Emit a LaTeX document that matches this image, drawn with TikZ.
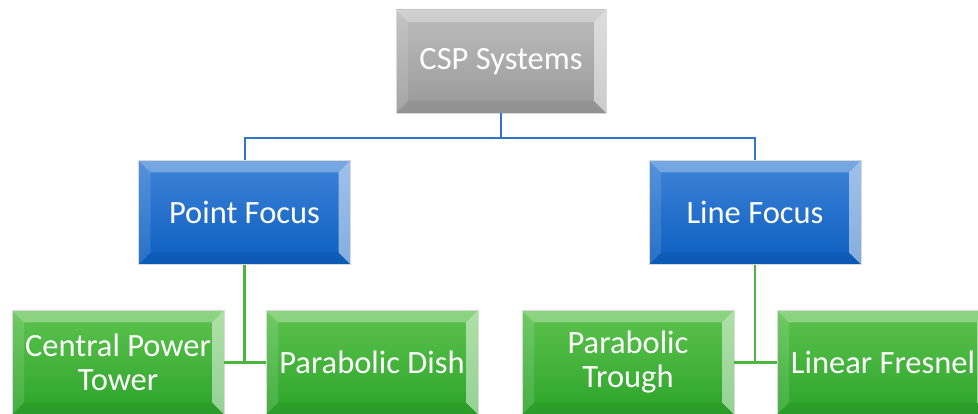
\documentclass[tikz,border=0pt]{standalone}
\usepackage{fontspec}
\setmainfont{Carlito}
\usetikzlibrary{calc}

\definecolor{grayTop}{HTML}{BDBDBD}
\definecolor{grayBot}{HTML}{999999}
\definecolor{blueTop}{HTML}{3F83D8}
\definecolor{blueBot}{HTML}{0B5EBF}
\definecolor{greenTop}{HTML}{5DC34E}
\definecolor{greenBot}{HTML}{2CA42A}
\definecolor{blueLine}{HTML}{2F76C9}
\definecolor{greenLine}{HTML}{4DB43F}

\tikzset{
  bevel/.style={
    minimum width=212pt, minimum height=104pt, inner sep=0pt,
    text=white, font=\fontsize{32.5}{34}\selectfont, align=center,
    draw=white!85!black, line width=0.8pt,
    path picture={
      \coordinate (nw) at (path picture bounding box.north west);
      \coordinate (ne) at (path picture bounding box.north east);
      \coordinate (sw) at (path picture bounding box.south west);
      \coordinate (se) at (path picture bounding box.south east);
      % top
      \fill[white,opacity=0.3] (nw) -- (ne) -- ($(ne)+(-12pt,-12pt)$) -- ($(nw)+(12pt,-12pt)$) -- cycle;
      % left
      \fill[white,opacity=0.12] (nw) -- ($(nw)+(12pt,-12pt)$) -- ($(sw)+(12pt,12pt)$) -- (sw) -- cycle;
      % right
      \fill[white,opacity=0.5] (ne) -- ($(ne)+(-12pt,-12pt)$) -- ($(se)+(-12pt,12pt)$) -- (se) -- cycle;
      % bottom
      \fill[black,opacity=0.05] (sw) -- ($(sw)+(12pt,12pt)$) -- ($(se)+(-12pt,12pt)$) -- (se) -- cycle;
    }},
  graybox/.style={bevel, top color=grayTop, bottom color=grayBot},
  bluebox/.style={bevel, top color=blueTop, bottom color=blueBot},
  greenbox/.style={bevel, top color=greenTop, bottom color=greenBot},
  bluecon/.style={draw=blueLine, line width=2pt},
  greencon/.style={draw=greenLine, line width=2.2pt}
}

\begin{document}
\begin{tikzpicture}[x=1pt,y=1pt]
  \useasboundingbox (0,0) rectangle (978,-414);
  \clip (0,0) rectangle (978,-414);

  \node[graybox, minimum width=210pt, minimum height=103pt] (csp) at (501,-61.5) {CSP Systems};

  \node[bluebox] (pf) at (244.5,-212.5) {Point Focus};
  \node[bluebox] (lf) at (755,-212.5) {Line Focus};

  \node[greenbox] (cpt) at (118,-362.5) {Central Power\\Tower};
  \node[greenbox] (pd) at (372,-362.5) {Parabolic Dish};
  \node[greenbox] (pt) at (628,-362.5) {Parabolic\\Trough};
  \node[greenbox] (lfr) at (883,-362.5) {Linear Fresnel};

  % connectors
  \draw[bluecon] (csp.south) -- ++(0,-25) -| (pf.north);
  \draw[bluecon] (csp.south) -- ++(0,-25) -| (lf.north);

  \draw[greencon] (pf.south) -- (pf.south |- cpt.east) coordinate (j1);
  \draw[greencon] (cpt.east) -- (j1) -- (pd.west);

  \draw[greencon] (lf.south) -- (lf.south |- pt.east) coordinate (j2);
  \draw[greencon] (pt.east) -- (j2) -- (lfr.west);
\end{tikzpicture}
\end{document}
